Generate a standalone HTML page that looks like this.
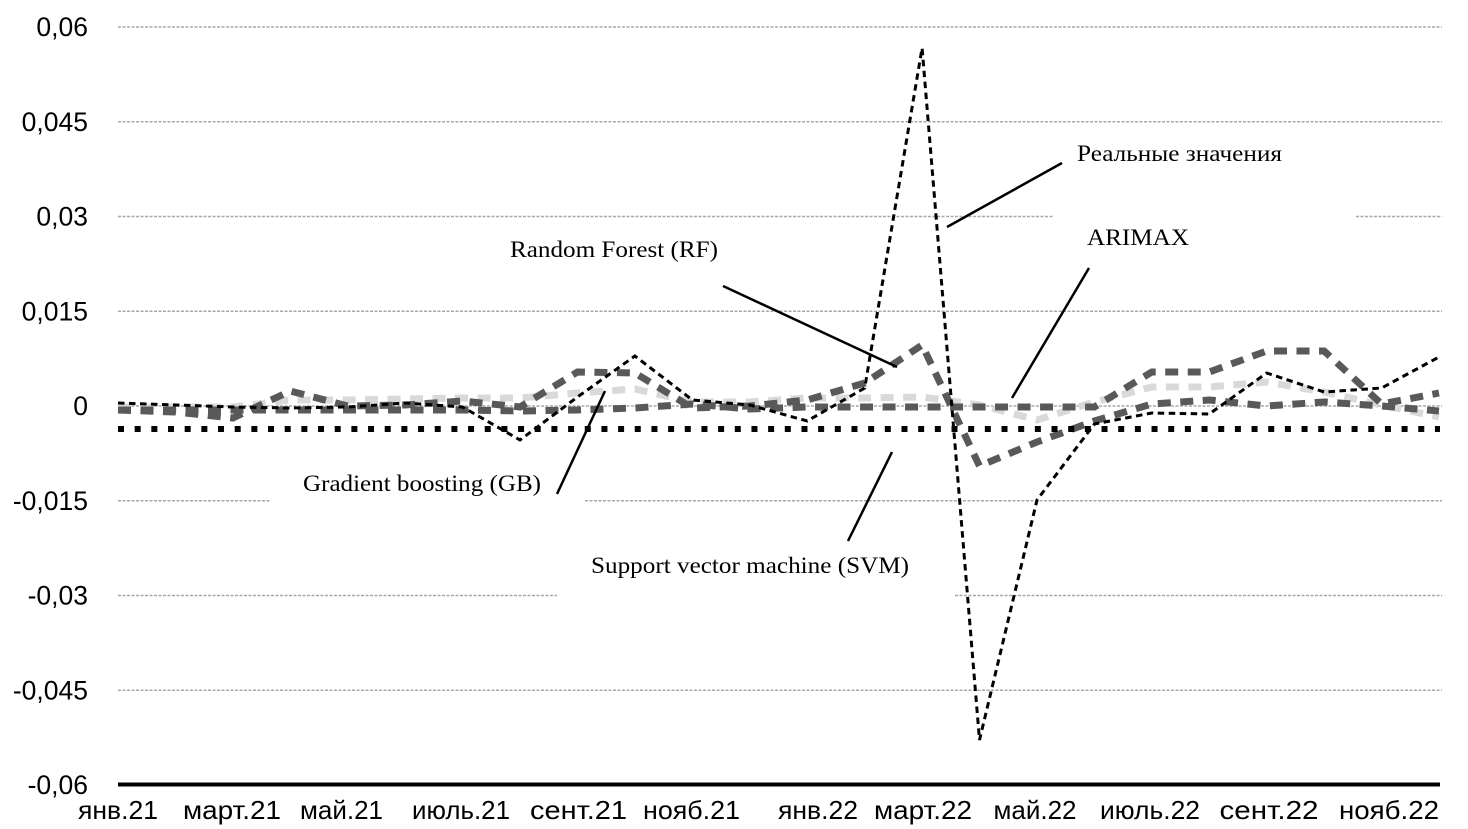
<!DOCTYPE html>
<html>
<head>
<meta charset="utf-8">
<style>
  html,body{margin:0;padding:0;background:#fff;}
  svg{display:block;}
  .yl{font-family:"Liberation Sans",sans-serif;font-size:26.5px;fill:#000;text-anchor:end;}
  .xl{font-family:"Liberation Sans",sans-serif;font-size:26px;fill:#000;text-anchor:middle;}
  .an{font-family:"Liberation Serif",serif;font-size:23.5px;fill:#000;}
  .grid{stroke:#a8a8a8;stroke-width:1.6;stroke-dasharray:3 1.5;fill:none;}
</style>
</head>
<body>
<svg width="1468" height="829" viewBox="0 0 1468 829" xmlns="http://www.w3.org/2000/svg">
  <rect width="1468" height="829" fill="#fff"/>

  <!-- gridlines -->
  <line class="grid" x1="118" y1="27" x2="1442" y2="27"/>
  <line class="grid" x1="118" y1="121.75" x2="1442" y2="121.75"/>
  <line class="grid" x1="118" y1="216.5" x2="1053" y2="216.5"/>
  <line class="grid" x1="1356" y1="216.5" x2="1442" y2="216.5"/>
  <line class="grid" x1="118" y1="311.25" x2="1442" y2="311.25"/>
  <line class="grid" x1="118" y1="406" x2="1442" y2="406"/>
  <line class="grid" x1="118" y1="500.75" x2="270" y2="500.75"/>
  <line class="grid" x1="585" y1="500.75" x2="1442" y2="500.75"/>
  <line class="grid" x1="118" y1="595.5" x2="557" y2="595.5"/>
  <line class="grid" x1="955" y1="595.5" x2="1442" y2="595.5"/>
  <line class="grid" x1="118" y1="690.25" x2="1442" y2="690.25"/>

  <!-- axis -->
  <line x1="118" y1="784.5" x2="1440" y2="784.5" stroke="#000" stroke-width="4"/>

  <!-- y labels -->
  <text class="yl" x="88" y="36">0,06</text>
  <text class="yl" x="88" y="130.75">0,045</text>
  <text class="yl" x="88" y="225.5">0,03</text>
  <text class="yl" x="88" y="320.25">0,015</text>
  <text class="yl" x="88" y="415">0</text>
  <text class="yl" x="88" y="509.75">-0,015</text>
  <text class="yl" x="88" y="604.5">-0,03</text>
  <text class="yl" x="88" y="699.25">-0,045</text>
  <text class="yl" x="88" y="794">-0,06</text>

  <!-- x labels -->
  <text class="xl" x="118" y="819" textLength="80" lengthAdjust="spacingAndGlyphs">янв.21</text>
  <text class="xl" x="232" y="819" textLength="98" lengthAdjust="spacingAndGlyphs">март.21</text>
  <text class="xl" x="341.5" y="819">май.21</text>
  <text class="xl" x="461" y="819" textLength="98" lengthAdjust="spacingAndGlyphs">июль.21</text>
  <text class="xl" x="578.5" y="819" textLength="97" lengthAdjust="spacingAndGlyphs">сент.21</text>
  <text class="xl" x="691.5" y="819" textLength="97" lengthAdjust="spacingAndGlyphs">нояб.21</text>
  <text class="xl" x="818" y="819" textLength="80" lengthAdjust="spacingAndGlyphs">янв.22</text>
  <text class="xl" x="923" y="819" textLength="98" lengthAdjust="spacingAndGlyphs">март.22</text>
  <text class="xl" x="1035" y="819">май.22</text>
  <text class="xl" x="1150" y="819" textLength="100" lengthAdjust="spacingAndGlyphs">июль.22</text>
  <text class="xl" x="1269" y="819" textLength="99" lengthAdjust="spacingAndGlyphs">сент.22</text>
  <text class="xl" x="1389" y="819" textLength="100" lengthAdjust="spacingAndGlyphs">нояб.22</text>

  <!-- Gradient boosting (light grey) -->
  <polyline fill="none" stroke="#d9d9d9" stroke-width="7" stroke-dasharray="13 9.5"
    points="118,407 175.4,407 232.9,407 290.3,400 347.7,400 405.2,399 462.6,398 520,398 577.5,393 634.9,389 692.4,402 749.8,402 807.2,398 864.7,398 922.1,397 979.5,405 1037,420 1094.4,402 1151.8,387 1209.3,387 1266.7,382 1324.1,392 1381.6,405 1439,417"/>

  <!-- ARIMAX (dark grey) -->
  <polyline fill="none" stroke="#595959" stroke-width="7" stroke-dasharray="13 9.5"
    points="118,410 175.4,410 232.9,410 290.3,410 347.7,410 405.2,410 462.6,410 520,411 577.5,410 634.9,408 692.4,404 749.8,409 807.2,407 864.7,407 922.1,407 979.5,407 1037,407 1094.4,407 1151.8,372 1209.3,372 1266.7,351 1324.1,351 1381.6,404 1439,393"/>

  <!-- Random Forest (dark grey) -->
  <polyline fill="none" stroke="#595959" stroke-width="7" stroke-dasharray="13 9.5"
    points="118,410 175.4,412 232.9,418 290.3,391 347.7,406 405.2,405 462.6,401 520,407 577.5,372 634.9,373 692.4,408 749.8,406 807.2,400 864.7,383 922.1,345 979.5,466 1037,442 1094.4,421 1151.8,404 1209.3,400 1266.7,406 1324.1,402 1381.6,406 1439,411"/>

  <!-- SVM (black dotted) -->
  <line x1="118" y1="429" x2="1440" y2="429" stroke="#000" stroke-width="6" stroke-dasharray="6 10.67"/>

  <!-- Real values (black thin dashed) -->
  <polyline fill="none" stroke="#000" stroke-width="3" stroke-dasharray="6.5 4.5"
    points="118,403 175.4,405 232.9,407 290.3,408 347.7,407 405.2,403 462.6,407 520,440 577.5,397 634.9,356 692.4,400 749.8,405 807.2,421 864.7,388 922.1,48 979.5,740 1037,500 1094.4,424 1151.8,413 1209.3,414 1266.7,373 1324.1,392 1381.6,388 1439,357"/>

  <!-- callout lines -->
  <g stroke="#000" stroke-width="2.5" fill="none">
    <line x1="947" y1="227" x2="1062" y2="163"/>
    <line x1="1012" y1="398" x2="1089" y2="268"/>
    <line x1="723" y1="286" x2="897" y2="367"/>
    <line x1="557" y1="494" x2="605" y2="391"/>
    <line x1="848" y1="541" x2="892" y2="452"/>
  </g>

  <!-- annotations -->
  <text class="an" x="1077" y="161" textLength="205" lengthAdjust="spacingAndGlyphs">Реальные значения</text>
  <text class="an" x="1087" y="245" textLength="102" lengthAdjust="spacingAndGlyphs">ARIMAX</text>
  <text class="an" x="510" y="257" textLength="208" lengthAdjust="spacingAndGlyphs">Random Forest (RF)</text>
  <text class="an" x="303" y="491" textLength="238" lengthAdjust="spacingAndGlyphs">Gradient boosting (GB)</text>
  <text class="an" x="591" y="573" textLength="318" lengthAdjust="spacingAndGlyphs">Support vector machine (SVM)</text>
</svg>
</body>
</html>
